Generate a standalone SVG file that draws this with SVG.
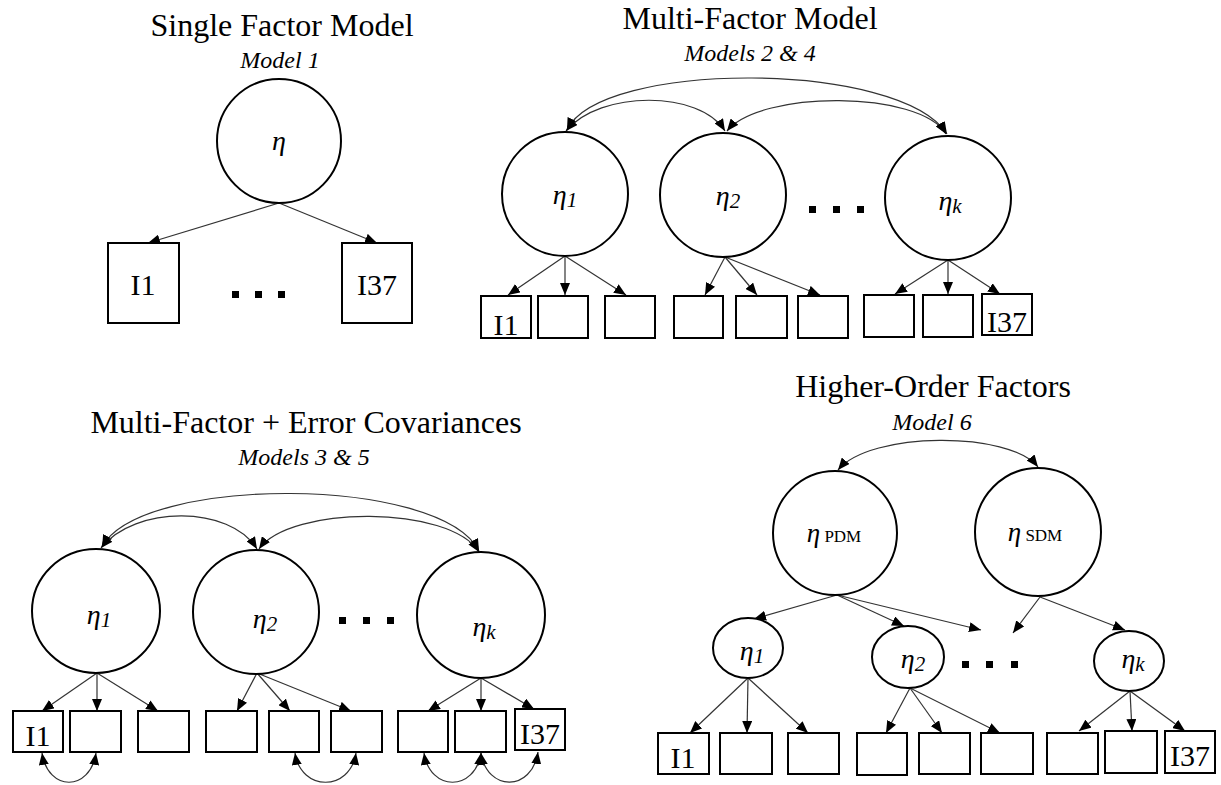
<svg xmlns="http://www.w3.org/2000/svg" width="1221" height="785" viewBox="0 0 1221 785">
<style>
text{font-family:"Liberation Serif","Times New Roman",serif;fill:#000}
.title{font-size:32px;text-anchor:middle}
.sub{font-size:24px;font-style:italic;text-anchor:middle}
.lat{fill:#fff;stroke:#000;stroke-width:2}
.box{fill:#fff;stroke:#000;stroke-width:2}
.eta{font-size:28px;font-style:italic;text-anchor:middle}
.item{font-size:30px;text-anchor:middle}
.dot{fill:#000}
.c{fill:none;stroke:#333;stroke-width:1.2;marker-end:url(#ah)}
.cv{fill:none;stroke:#333;stroke-width:1.2;marker-start:url(#ah);marker-end:url(#ah)}
</style>
<defs>
<marker id="ah" markerUnits="userSpaceOnUse" markerWidth="12" markerHeight="10" refX="12" refY="5" orient="auto-start-reverse">
<path d="M0,0 L12,5 L0,10 z" fill="#000"/>
</marker>
</defs>
<rect width="1221" height="785" fill="#fff"/>

<!-- Titles -->
<g id="titles">
<text class="title" x="282" y="36">Single Factor Model</text>
<text class="sub" x="280" y="68">Model 1</text>
<text class="title" x="750" y="29">Multi-Factor Model</text>
<text class="sub" x="750" y="61">Models 2 &amp; 4</text>
<text class="title" x="306" y="433">Multi-Factor + Error Covariances</text>
<text class="sub" x="304" y="465">Models 3 &amp; 5</text>
<text class="title" x="933" y="397">Higher-Order Factors</text>
<text class="sub" x="932" y="430">Model 6</text>
</g>

<!-- Connectors -->
<g id="connectors">
<!-- panel 1 -->
<path class="c" d="M279 203 L148 243"/>
<path class="c" d="M279 203 L377 243"/>
<!-- panel 2 -->
<path class="cv" d="M567 130 C600 60, 900 60, 947 134"/>
<path class="cv" d="M566 131 C600 90, 700 90, 725 131"/>
<path class="cv" d="M727 131 C760 90, 920 90, 946 134"/>
<path class="c" d="M565 256 L508 295"/>
<path class="c" d="M565 256 L565 295"/>
<path class="c" d="M565 256 L626 295"/>
<path class="c" d="M725 257 L705 295"/>
<path class="c" d="M725 257 L757 295"/>
<path class="c" d="M725 257 L820 295"/>
<path class="c" d="M948 260 L895 294"/>
<path class="c" d="M948 260 L948 294"/>
<path class="c" d="M948 260 L1000 294"/>
<!-- panel 3 -->
<path class="cv" d="M102 547 C140 475, 440 475, 479 551"/>
<path class="cv" d="M101 548 C135 505, 230 505, 257 549"/>
<path class="cv" d="M259 549 C290 505, 450 505, 479 552"/>
<path class="c" d="M97 673 L42 711"/>
<path class="c" d="M97 673 L97 711"/>
<path class="c" d="M97 673 L158 711"/>
<path class="c" d="M257 673 L237 711"/>
<path class="c" d="M257 673 L290 711"/>
<path class="c" d="M257 673 L351 711"/>
<path class="c" d="M481 678 L428 711"/>
<path class="c" d="M481 678 L481 711"/>
<path class="c" d="M481 678 L534 709"/>
<path class="cv" d="M42 753 C48 792, 90 792, 96 753"/>
<path class="cv" d="M295 753 C301 792, 350 792, 356 753"/>
<path class="cv" d="M424 753 C430 792, 475 792, 481 753"/>
<path class="cv" d="M481 753 C487 792, 532 792, 538 752"/>
<!-- panel 4 -->
<path class="cv" d="M838 470 C870 431, 1010 431, 1038 467"/>
<path class="c" d="M837 595 L754 619"/>
<path class="c" d="M837 595 L904 626"/>
<path class="c" d="M837 595 L981 630"/>
<path class="c" d="M1040 597 L1013 633"/>
<path class="c" d="M1040 597 L1125 630"/>
<path class="c" d="M748 678 L690 733"/>
<path class="c" d="M748 678 L747 733"/>
<path class="c" d="M748 678 L808 733"/>
<path class="c" d="M910 688 L886 733"/>
<path class="c" d="M910 688 L942 733"/>
<path class="c" d="M910 688 L1000 733"/>
<path class="c" d="M1130 691 L1079 731"/>
<path class="c" d="M1130 691 L1132 731"/>
<path class="c" d="M1130 691 L1185 731"/>
</g>

<!-- Panel 1 nodes -->
<g id="p1-eta"><circle class="lat" cx="279" cy="141" r="62"/><text class="eta" x="279" y="150" font-size="29">η</text></g>
<g id="p1-I1"><rect class="box" x="108" y="243" width="71" height="80"/><text class="item" x="143" y="295" font-size="34">I1</text></g>
<g id="p1-I37"><rect class="box" x="342" y="243" width="70" height="80"/><text class="item" x="377" y="295" font-size="34">I37</text></g>
<g id="p1-dots"><rect class="dot" x="232" y="291" width="7" height="7"/><rect class="dot" x="255" y="291" width="7" height="7"/><rect class="dot" x="278" y="291" width="7" height="7"/></g>

<!-- Panel 2 nodes -->
<g id="p2-eta1"><ellipse class="lat" cx="565" cy="194" rx="63" ry="62"/><text class="eta" x="565" y="204">η<tspan font-size="21" dy="3">1</tspan></text></g>
<g id="p2-eta2"><ellipse class="lat" cx="723" cy="195" rx="63" ry="62"/><text class="eta" x="728" y="205">η<tspan font-size="21" dy="3">2</tspan></text></g>
<g id="p2-etak"><ellipse class="lat" cx="948" cy="198" rx="63" ry="62"/><text class="eta" x="950" y="210">η<tspan font-size="21" dy="3">k</tspan></text></g>
<g id="p2-dots"><rect class="dot" x="809" y="206" width="7" height="7"/><rect class="dot" x="833" y="206" width="7" height="7"/><rect class="dot" x="857" y="206" width="7" height="7"/></g>
<g id="p2-items">
<rect class="box" x="481" y="296" width="50" height="42"/><text class="item" x="506" y="335">I1</text>
<rect class="box" x="538" y="296" width="50" height="42"/>
<rect class="box" x="605" y="296" width="50" height="42"/>
<rect class="box" x="674" y="296" width="49" height="42"/>
<rect class="box" x="736" y="296" width="51" height="42"/>
<rect class="box" x="798" y="296" width="50" height="42"/>
<rect class="box" x="864" y="295" width="50" height="42"/>
<rect class="box" x="923" y="295" width="50" height="42"/>
<rect class="box" x="982" y="294" width="50" height="41"/><text class="item" x="1007" y="332">I37</text>
</g>

<!-- Panel 3 nodes -->
<g id="p3-eta1"><ellipse class="lat" cx="96" cy="611" rx="64" ry="62"/><text class="eta" x="99" y="624">η<tspan font-size="21" dy="3">1</tspan></text></g>
<g id="p3-eta2"><ellipse class="lat" cx="256" cy="612" rx="63" ry="62"/><text class="eta" x="265" y="628">η<tspan font-size="21" dy="3">2</tspan></text></g>
<g id="p3-etak"><ellipse class="lat" cx="481" cy="615" rx="64" ry="63"/><text class="eta" x="484" y="636">η<tspan font-size="21" dy="3">k</tspan></text></g>
<g id="p3-dots"><rect class="dot" x="339" y="617" width="7" height="7"/><rect class="dot" x="363" y="617" width="7" height="7"/><rect class="dot" x="387" y="617" width="7" height="7"/></g>
<g id="p3-items">
<rect class="box" x="13" y="711" width="50" height="41"/><text class="item" x="38" y="746">I1</text>
<rect class="box" x="70" y="711" width="51" height="41"/>
<rect class="box" x="138" y="711" width="51" height="41"/>
<rect class="box" x="206" y="711" width="51" height="41"/>
<rect class="box" x="269" y="711" width="50" height="41"/>
<rect class="box" x="331" y="711" width="51" height="41"/>
<rect class="box" x="398" y="711" width="50" height="41"/>
<rect class="box" x="455" y="711" width="51" height="41"/>
<rect class="box" x="515" y="709" width="50" height="41"/><text class="item" x="540" y="744">I37</text>
</g>

<!-- Panel 4 nodes -->
<g id="p4-pdm"><circle class="lat" cx="835" cy="533" r="62"/><text x="834" y="542" text-anchor="middle"><tspan font-size="27" font-style="italic">η</tspan><tspan font-size="17"> PDM</tspan></text></g>
<g id="p4-sdm"><ellipse class="lat" cx="1038" cy="532" rx="63" ry="64"/><text x="1035" y="541" text-anchor="middle"><tspan font-size="27" font-style="italic">η</tspan><tspan font-size="17"> SDM</tspan></text></g>
<g id="p4-eta1"><ellipse class="lat" cx="748" cy="648" rx="35" ry="30"/><text class="eta" x="752" y="660">η<tspan font-size="21" dy="3">1</tspan></text></g>
<g id="p4-eta2"><ellipse class="lat" cx="908" cy="657" rx="36" ry="31"/><text class="eta" x="913" y="668">η<tspan font-size="21" dy="3">2</tspan></text></g>
<g id="p4-etak"><ellipse class="lat" cx="1129" cy="661" rx="35" ry="30"/><text class="eta" x="1133" y="668">η<tspan font-size="21" dy="3">k</tspan></text></g>
<g id="p4-dots"><rect class="dot" x="962" y="661" width="7" height="7"/><rect class="dot" x="986" y="661" width="7" height="7"/><rect class="dot" x="1011" y="661" width="7" height="7"/></g>
<g id="p4-items">
<rect class="box" x="658" y="733" width="51" height="41"/><text class="item" x="683" y="768">I1</text>
<rect class="box" x="720" y="733" width="52" height="41"/>
<rect class="box" x="788" y="733" width="51" height="41"/>
<rect class="box" x="857" y="733" width="50" height="42"/>
<rect class="box" x="919" y="733" width="51" height="41"/>
<rect class="box" x="981" y="733" width="52" height="41"/>
<rect class="box" x="1047" y="733" width="51" height="41"/>
<rect class="box" x="1105" y="731" width="52" height="42"/>
<rect class="box" x="1165" y="731" width="50" height="42"/><text class="item" x="1190" y="766">I37</text>
</g>
</svg>
